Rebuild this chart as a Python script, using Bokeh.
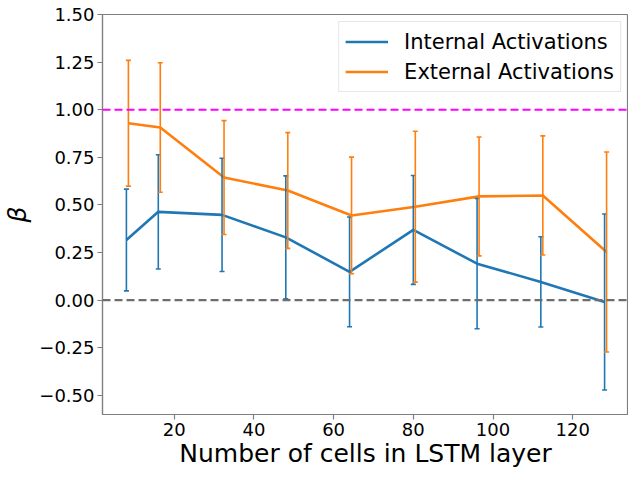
import math
from bokeh.plotting import figure
from bokeh.models import ColumnDataSource, Whisker, TeeHead, Span, FixedTicker, Legend, LegendItem, Range1d
from bokeh.embed import file_html
from bokeh.resources import INLINE

cells = [8, 16, 32, 48, 64, 80, 96, 112, 128]
cells_ext = [8.5, 16.5, 32.5, 48.5, 64.5, 80.5, 96.5, 112.5, 128.5]
internal_mean = [0.316, 0.464, 0.448, 0.330, 0.149, 0.369, 0.192, 0.096, -0.009]
internal_err = [0.267, 0.300, 0.297, 0.323, 0.288, 0.286, 0.342, 0.237, 0.462]
external_mean = [0.929, 0.907, 0.644, 0.576, 0.445, 0.491, 0.545, 0.550, 0.253]
external_err = [0.330, 0.340, 0.299, 0.304, 0.306, 0.396, 0.312, 0.313, 0.525]
y_ticks = [-0.5, -0.25, 0.0, 0.25, 0.5, 0.75, 1.0, 1.25, 1.5]
x_ticks = [20, 40, 60, 80, 100, 120]

FONT = "DejaVu Sans"
BLUE = "#1f77b4"
ORANGE = "#ff7f0e"
SPINE = "#7f7f7f"

p = figure(width=628, height=470, output_backend="svg", toolbar_location=None,
           x_range=Range1d(2, 134), y_range=Range1d(-0.6, 1.5),
           min_border_left=95, min_border_right=0, min_border_top=14, min_border_bottom=50)
p.grid.visible = False
p.outline_line_color = SPINE
p.outline_line_width = 1.2

src_i = ColumnDataSource(dict(x=cells, y=internal_mean,
                              up=[m + e for m, e in zip(internal_mean, internal_err)],
                              lo=[m - e for m, e in zip(internal_mean, internal_err)]))
src_e = ColumnDataSource(dict(x=cells_ext, y=external_mean,
                              up=[m + e for m, e in zip(external_mean, external_err)],
                              lo=[m - e for m, e in zip(external_mean, external_err)]))

def add_series(src, color):
    w = Whisker(base="x", upper="up", lower="lo", source=src, dimension="height",
                line_color=color, line_width=1.6,
                upper_head=TeeHead(size=5, line_color=color, line_width=1.6),
                lower_head=TeeHead(size=5, line_color=color, line_width=1.6),
                level="glyph")
    p.add_layout(w)
    r = p.line("x", "y", source=src, line_color=color, line_width=2.6)
    m = p.scatter(x=[], y=[], marker="dash", angle=math.pi / 2, size=14,
                  line_color=color, line_width=2)
    return r, m

r_i = add_series(src_i, BLUE)
r_e = add_series(src_e, ORANGE)

p.add_layout(Span(location=1.0, dimension="width", line_color="#ff00ff", line_width=2.2, line_dash="8 4"))
p.add_layout(Span(location=0.0, dimension="width", line_color="#6e6e6e", line_width=2.2, line_dash="8 4"))

legend = Legend(items=[LegendItem(label="Internal Activations", renderers=list(r_i)),
                       LegendItem(label="External Activations", renderers=list(r_e))],
                location="top_right")
legend.label_text_font = FONT
legend.label_text_font_size = "21px"
legend.label_text_color = "black"
legend.glyph_width = 43
legend.glyph_height = 27
legend.label_height = 27
legend.spacing = 3
legend.padding = 6
legend.margin = 7
legend.label_standoff = 16
legend.border_line_color = "#d0d0d0"
legend.border_line_width = 1
legend.background_fill_alpha = 0.85
p.add_layout(legend)

p.xaxis.ticker = FixedTicker(ticks=x_ticks)
p.yaxis.ticker = FixedTicker(ticks=y_ticks)
p.yaxis.major_label_overrides = {t: (f"{t:.2f}".replace("-", "\u2212")) for t in y_ticks}
for ax in (p.xaxis, p.yaxis):
    ax.axis_line_color = SPINE
    ax.axis_line_width = 1.2
    ax.major_tick_line_color = SPINE
    ax.major_tick_line_width = 1.2
    ax.major_tick_out = 5
    ax.major_tick_in = 0
    ax.minor_tick_line_color = None
    ax.major_label_standoff = 3
    ax.major_label_text_font = FONT
    ax.major_label_text_font_size = "18px"
    ax.major_label_text_color = "black"
    ax.axis_label_text_font = FONT
    ax.axis_label_text_font_size = "25px"
    ax.axis_label_text_color = "black"

p.xaxis.axis_label = "Number of cells in LSTM layer"
p.xaxis.axis_label_text_font_style = "normal"
p.xaxis.axis_label_standoff = 0
p.yaxis.axis_label = "β"
p.yaxis.axis_label_text_font_style = "italic"
p.yaxis.axis_label_standoff = 4

open("out.html", "w").write(file_html(p, INLINE))
